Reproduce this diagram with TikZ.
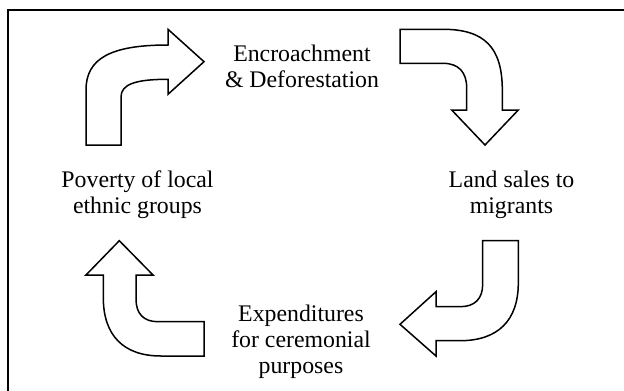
\documentclass[tikz,border=0pt]{standalone}
\usepackage{fontspec}
\setmainfont{Liberation Serif}
\begin{document}
\begin{tikzpicture}[x=1pt,y=-1pt,
  label/.style={align=center,anchor=base,inner sep=0pt,
    font=\fontsize{23.8}{26}\selectfont},
  blockarrow/.style={draw=black,line width=1.5pt,fill=white,line join=miter}]
\clip (0,0) rectangle (624,391);
\useasboundingbox (0,0) rectangle (624,391);
\draw[line width=1.8pt] (8,10.3) rectangle (640,410);

% labels (anchored at the baseline of the last line)
\node[label] (enc)  at (302,87.3)  {Encroachment\\\& Deforestation};
\node[label] (land) at (511.5,213.5) {Land sales to\\migrants};
\node[label] (exp)  at (301,373.5) {Expenditures\\for ceremonial\\purposes};
\node[label] (pov)  at (137.5,213) {Poverty of local\\ethnic groups};

% arrow A: poverty -> encroachment (up, then right)
\draw[blockarrow] (86,145) -- (121,145) -- (121,97)
  .. controls (121,84.4) and (135.1,79.3) .. (168,79.3)
  -- (168,94.3) -- (204,61.7) -- (168,29.3) -- (168,45)
  .. controls (110.6,45) and (86,58.5) .. (86,90) -- cycle;

% arrow B: encroachment -> land sales (right, then down)
\draw[blockarrow] (400,29.3) -- (443,29.3)
  .. controls (484.5,29.3) and (502.3,47.5) .. (502.3,90)
  -- (502.3,110) -- (518.3,110) -- (485,145) -- (451.7,110) -- (466.7,110)
  -- (466.7,88) .. controls (466.7,72) and (458.4,63.3) .. (443,63.3)
  -- (400,63.3) -- cycle;

% arrow C: land sales -> expenditures (down, then left)
\draw[blockarrow] (482.7,240.7) -- (518.3,240.7) -- (518.3,283)
  .. controls (518.3,320.5) and (497.9,340.7) .. (460,340.7)
  -- (436,340.7) -- (436,356) -- (400,324.3) -- (436,291.7) -- (436,306.7)
  -- (460,306.7) .. controls (474.8,306.7) and (482.7,298.8) .. (482.7,284)
  -- cycle;

% arrow D: expenditures -> poverty (left, then up)
\draw[blockarrow] (204,321.7) -- (204,356) -- (161,356)
  .. controls (123.5,356) and (103.3,335.5) .. (103.3,297.5)
  -- (103.3,275) -- (86,275) -- (119.3,240.7) -- (153,275) -- (136,275)
  -- (136,299) .. controls (136,313.8) and (143.7,321.7) .. (158,321.7)
  -- cycle;
\end{tikzpicture}
\end{document}
